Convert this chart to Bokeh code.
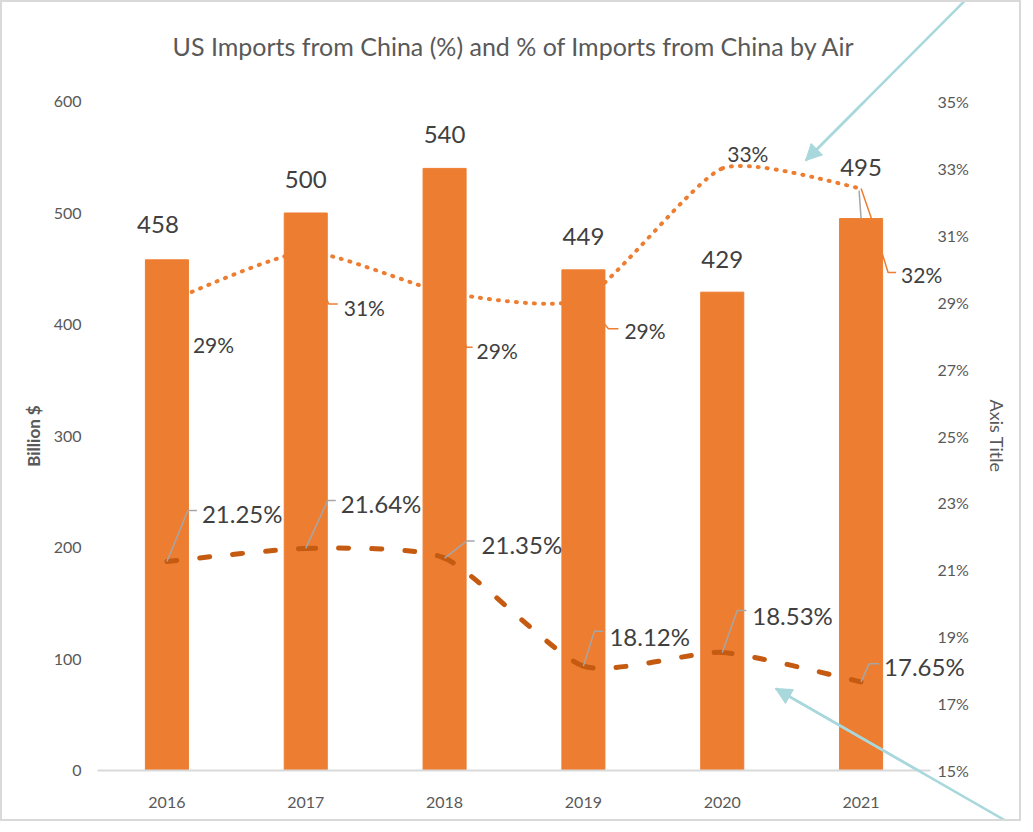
from bokeh.plotting import figure
from bokeh.models import (Range1d, LinearAxis, FixedTicker, ColumnDataSource, Arrow,
                          NormalHead, PrintfTickFormatter)
from bokeh.core.properties import value
from bokeh.embed import file_html
from bokeh.resources import INLINE

# ---------------- data ----------------
title_text = "US Imports from China (%) and % of Imports from China by Air"
years = ["2016", "2017", "2018", "2019", "2020", "2021"]
imports_bn = [458, 500, 540, 449, 429, 495]                 # bars, Billion $
china_share_pct = [29.0, 30.5, 29.3, 29.1, 33.0, 32.4]       # dotted line (right axis)
china_share_labels = ["29%", "31%", "29%", "29%", "33%", "32%"]
air_share_pct = [21.25, 21.64, 21.35, 18.12, 18.53, 17.65]   # dashed line (right axis)
air_share_labels = ["21.25%", "21.64%", "21.35%", "18.12%", "18.53%", "17.65%"]
left_ticks = [0, 100, 200, 300, 400, 500, 600]
right_ticks = [15, 17, 19, 21, 23, 25, 27, 29, 31, 33, 35]

# ---------------- layout / style ----------------
FONT = "Lato"
W, H = 1021, 821
FW, FH = 833, 669
ML, MT = 95, 99
MR, MB = W - ML - FW, H - MT - FH
BAR = "#ED7D31"
DASH = "#C55A11"
TXT = "#595959"
LBL = "#404040"
LEADER = "#A6A6A6"
ARROW = "#A8D8DC"
SMOOTH = 0.1
TITLE_ABOVE_PX = 56

xs = list(range(len(years)))
x0, x1 = -0.5, len(years) - 0.5
y_lo, y_hi = left_ticks[0], left_ticks[-1]
r_lo, r_hi = right_ticks[0], right_ticks[-1]
px_x = FW / (x1 - x0)
px_bn = FH / (y_hi - y_lo)
px_pct = FH / (r_hi - r_lo)

p = figure(width=W, height=H, output_backend="svg", toolbar_location=None,
           x_range=Range1d(x0, x1), y_range=Range1d(y_lo, y_hi),
           min_border_left=ML, min_border_right=MR, min_border_top=MT, min_border_bottom=MB,
           background_fill_color="white", border_fill_color="white")
p.styles = {"border": "2px solid #D9D9D9"}
p.outline_line_color = None
p.grid.visible = False
p.extra_y_ranges = {"pct": Range1d(r_lo, r_hi)}

# axes
xa = p.xaxis[0]
xa.ticker = FixedTicker(ticks=xs)
xa.major_label_overrides = {i: y for i, y in enumerate(years)}
xa.axis_line_color = "#D9D9D9"
xa.axis_line_width = 2
xa.major_tick_line_color = None
xa.minor_tick_line_color = None
xa.major_label_standoff = 20
xa.major_label_text_font = FONT
xa.major_label_text_font_size = "16px"
xa.major_label_text_color = TXT

ya = p.yaxis[0]
ya.ticker = FixedTicker(ticks=left_ticks)
ya.axis_line_color = None
ya.major_tick_line_color = None
ya.minor_tick_line_color = None
ya.major_label_standoff = 10
ya.major_label_text_font = FONT
ya.major_label_text_font_size = "16px"
ya.major_label_text_color = TXT
ya.axis_label = "Billion $"
ya.axis_label_standoff = 7
ya.axis_label_text_font = FONT
ya.axis_label_text_font_size = "17px"
ya.axis_label_text_font_style = "bold"
ya.axis_label_text_color = TXT

ra = LinearAxis(y_range_name="pct", ticker=FixedTicker(ticks=right_ticks),
                formatter=PrintfTickFormatter(format="%d%%"))
ra.axis_line_color = None
ra.major_tick_line_color = None
ra.minor_tick_line_color = None
ra.major_label_standoff = 1
ra.major_label_text_font = FONT
ra.major_label_text_font_size = "16px"
ra.major_label_text_color = TXT
ra.axis_label = "Axis Title"
ra.axis_label_standoff = 14
ra.axis_label_text_font = FONT
ra.axis_label_text_font_size = "18px"
ra.axis_label_text_font_style = "normal"
ra.axis_label_text_color = TXT
p.add_layout(ra, "right")


# ---------- smooth curve helper (Catmull-Rom style -> cubic Bezier) ----------
def bezier_source(xv, yv, k=SMOOTH):
    n = len(xv)
    d = dict(x0=[], y0=[], x1=[], y1=[], cx0=[], cy0=[], cx1=[], cy1=[])
    for i in range(n - 1):
        a = max(i - 1, 0)
        b = min(i + 2, n - 1)
        d["x0"].append(xv[i]); d["y0"].append(yv[i])
        d["x1"].append(xv[i + 1]); d["y1"].append(yv[i + 1])
        d["cx0"].append(xv[i] + (xv[i + 1] - xv[a]) * k)
        d["cy0"].append(yv[i] + (yv[i + 1] - yv[a]) * k)
        d["cx1"].append(xv[i + 1] - (xv[b] - xv[i]) * k)
        d["cy1"].append(yv[i + 1] - (yv[b] - yv[i]) * k)
    return ColumnDataSource(d)


def leader(xv, yv, offs, pxy):
    """polyline from point through elbow to end; offsets in screen px (dy down)."""
    xsl, ysl = [], []
    for xi, yi, o in zip(xv, yv, offs):
        if o is None:
            continue
        pts = [(0, 0)] + list(o)
        xsl.append([xi + dx / px_x for dx, dy in pts])
        ysl.append([yi - dy / pxy for dx, dy in pts])
    return xsl, ysl


def labels(xv, yv, texts, dxs, dys, size, align, rng="default"):
    # text glyphs on the overlay level are not clipped at the plot frame
    p.text(x=xv, y=yv, text=texts, x_offset=dxs, y_offset=dys, y_range_name=rng,
           text_align=align, text_baseline="middle", text_font=value(FONT),
           text_font_size=size, text_color=LBL, level="overlay")


# ---- title (overlay text centred above the frame) ----
p.text(x=[(x0 + x1) / 2], y=[y_hi + TITLE_ABOVE_PX / px_bn], text=[title_text],
       text_align="center", text_baseline="middle", text_font=value(FONT),
       text_font_size="25px", text_color=TXT, level="overlay")

# ---- dotted line (behind bars) ----
p.bezier(x0="x0", y0="y0", x1="x1", y1="y1", cx0="cx0", cy0="cy0", cx1="cx1", cy1="cy1",
         source=bezier_source(xs, china_share_pct), y_range_name="pct",
         line_color=BAR, line_width=4, line_dash="1 8", line_cap="round")

dot_leader_offs = [None, [(23, 52), (32, 52)], [(22, 55), (28, 55)], [(25, 30), (35, 30)],
                   None, [(10, 29), (27, 84), (35, 84)]]
lx, ly = leader(xs, china_share_pct, dot_leader_offs, px_pct)
p.multi_line(lx, ly, y_range_name="pct", line_color=BAR, line_width=1.5)

# ---- bars ----
p.vbar(x=xs, top=imports_bn, width=0.31, color=BAR)

# ---- dashed line ----
p.bezier(x0="x0", y0="y0", x1="x1", y1="y1", cx0="cx0", cy0="cy0", cx1="cx1", cy1="cy1",
         source=bezier_source(xs, air_share_pct), y_range_name="pct",
         line_color=DASH, line_width=5, line_dash="10 23", line_cap="round")

dash_leader_offs = [[(21, -51), (30, -51)], [(22, -48), (30, -48)], [(22, -17), (30, -17)],
                    [(11, -35), (20, -35)], [(15, -42), (24, -42)], [(8, -18), (18, -18)]]
lx, ly = leader(xs, air_share_pct, dash_leader_offs, px_pct)
p.multi_line(lx, ly, y_range_name="pct", line_color=LEADER, line_width=1.5)

# bar-label leader for the lifted 2021 label
bar_leader_offs = [None, None, None, None, None, [(-2, -28)]]
lx, ly = leader(xs, imports_bn, bar_leader_offs, px_bn)
p.multi_line(lx, ly, line_color=LEADER, line_width=1.5)

# ---- data labels (screen-pixel offsets, +y is down) ----
labels(xs, imports_bn, [str(v) for v in imports_bn],
       [-9, 0, 0, 0, 0, 0], [-35, -34, -34, -33, -33, -51], "24px", "center")
labels(xs, air_share_pct, air_share_labels,
       [35, 35, 37, 26, 30, 23], [-48, -45, -14, -30, -37, -15], "24px", "left", "pct")
labels(xs, china_share_pct, china_share_labels,
       [26, 38, 32, 41, 5, 40], [42, 55, 58, 32, -15, 86], "21px", "left", "pct")

# ---- decorative call-out arrows (annotation, left-axis data units) ----
arrow_specs = [
    dict(x_start=5.824, y_start=700.0, x_end=4.60, y_end=547.0),
    dict(x_start=6.25, y_start=-60.0, x_end=4.384, y_end=73.5),
]
p.segment(x0=[a["x_start"] for a in arrow_specs], y0=[a["y_start"] for a in arrow_specs],
          x1=[a["x_end"] for a in arrow_specs], y1=[a["y_end"] for a in arrow_specs],
          line_color=ARROW, line_width=2.5, level="overlay")
for a in arrow_specs:
    p.add_layout(Arrow(end=NormalHead(size=16, fill_color=ARROW, line_color=ARROW),
                       line_color=ARROW, line_width=2.5, **a))

open("out.html", "w").write(file_html(p, INLINE))
